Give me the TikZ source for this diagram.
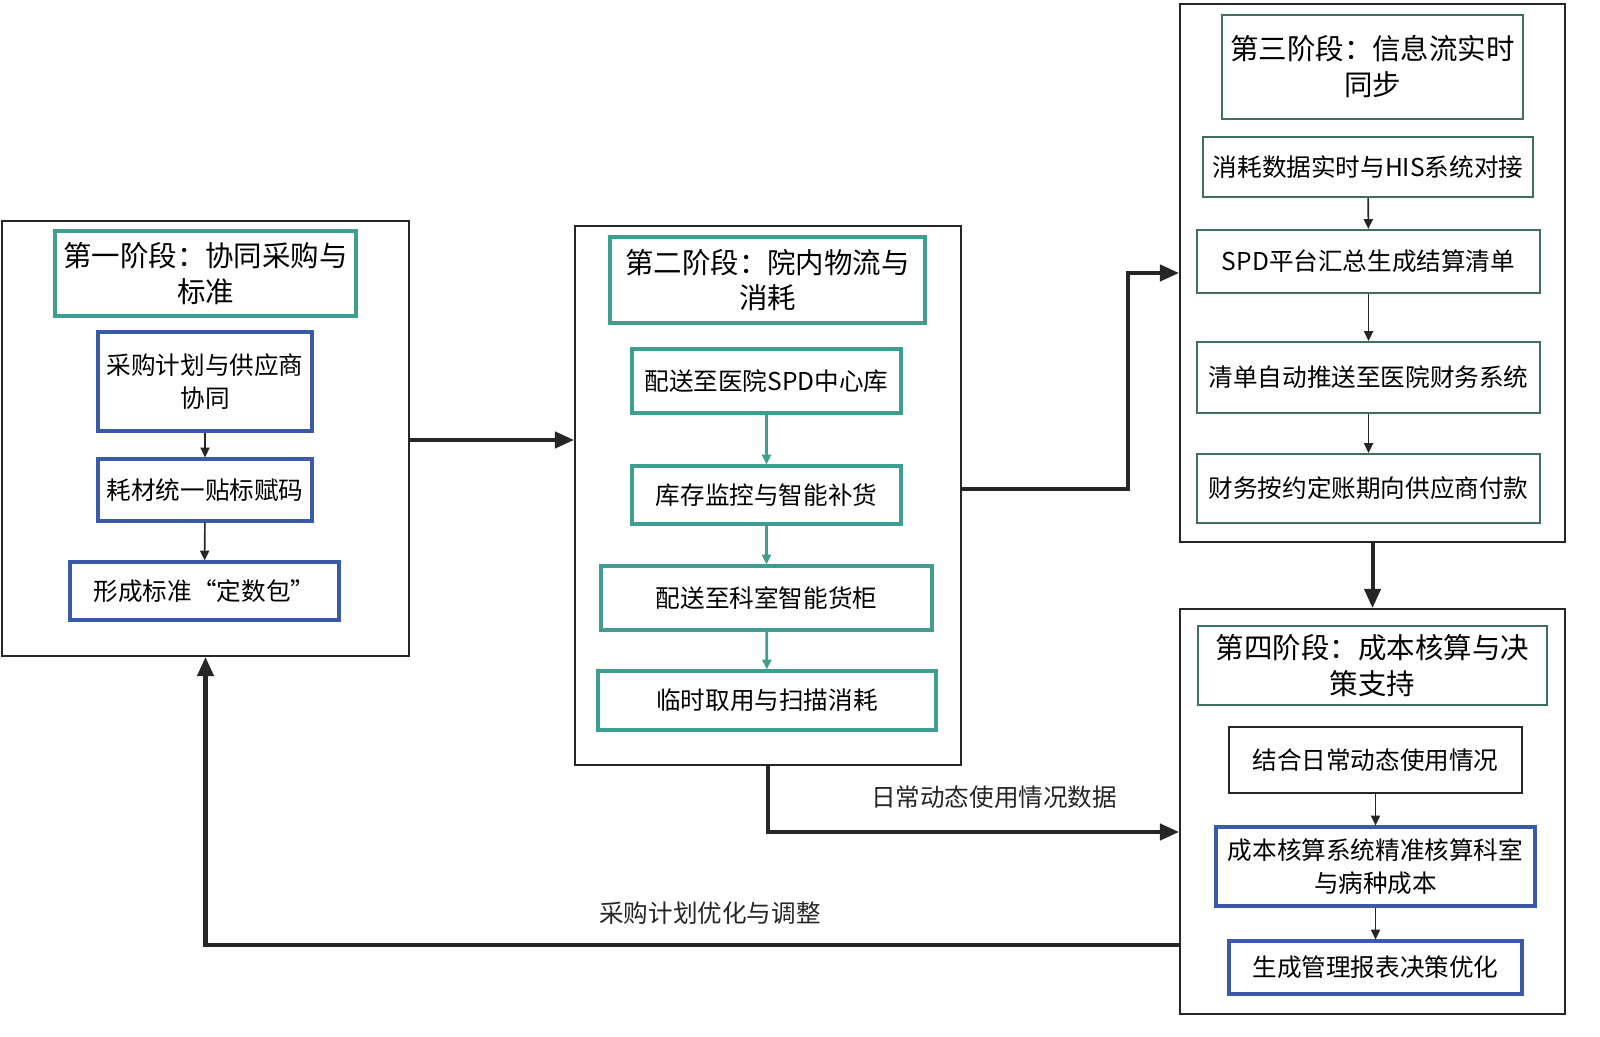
\documentclass[tikz,border=0pt]{standalone}
\usepackage{fontspec}
\setmainfont{Noto Sans CJK SC}
\usetikzlibrary{arrows.meta}

\definecolor{tealline}{HTML}{3E9E90}
\definecolor{blueline}{HTML}{3A5AA8}
\definecolor{darkgreen}{HTML}{3F6F62}

\begin{document}
\begin{tikzpicture}[
  stage/.style={draw=black!85,line width=0.5pt,minimum width=#1},
  title/.style={draw=tealline,line width=0.9pt,align=center,font=\fontsize{8.1}{10.2}\selectfont,inner sep=0pt},
  item/.style={draw=blueline,line width=0.9pt,align=center,font=\fontsize{7}{9.3}\selectfont,inner sep=0pt},
  tip/.style={-{Triangle[length=2.8pt,width=2.6pt]},line width=0.45pt,black!85},
  flow/.style={-{Triangle[length=5.5pt,width=4.6pt]},line width=1.15pt,black!85},
  lbl/.style={font=\fontsize{7}{9}\selectfont,text=black!85}
]
\useasboundingbox (0,0) rectangle (16,10.36);

% Stage one
\node[stage=4.07cm,minimum height=4.35cm] (s1) at (2.055,5.975) {};
\node[title,minimum width=3.01cm,minimum height=0.85cm] (t1) at (2.055,7.625) {第一阶段：协同采购与\\标准};
\node[item,minimum width=2.14cm,minimum height=0.99cm] (a1) at (2.05,6.545) {采购计划与供应商\\协同};
\node[item,minimum width=2.14cm,minimum height=0.62cm] (a2) at (2.05,5.46) {耗材统一贴标赋码};
\node[item,minimum width=2.69cm,minimum height=0.58cm] (a3) at (2.045,4.45) {形成标准“定数包”};
\draw[tip] (a1) -- (a2);
\draw[tip] (a2) -- (a3);

% Stage two
\node[stage=3.86cm,minimum height=5.39cm] (s2) at (7.68,5.405) {};
\node[title,minimum width=3.15cm,minimum height=0.86cm] (t2) at (7.675,7.56) {第二阶段：院内物流与\\消耗};
\node[item,draw=tealline,minimum width=2.69cm,minimum height=0.64cm] (b1) at (7.665,6.55) {配送至医院SPD中心库};
\node[item,draw=tealline,minimum width=2.69cm,minimum height=0.58cm] (b2) at (7.665,5.41) {库存监控与智能补货};
\node[item,draw=tealline,minimum width=3.31cm,minimum height=0.64cm] (b3) at (7.665,4.38) {配送至科室智能货柜};
\node[item,draw=tealline,minimum width=3.38cm,minimum height=0.59cm] (b4) at (7.67,3.355) {临时取用与扫描消耗};
\draw[tip,tealline,line width=0.8pt] (b1) -- (b2);
\draw[tip,tealline,line width=0.8pt] (b2) -- (b3);
\draw[tip,tealline,line width=0.8pt] (b3) -- (b4);

% Stage three
\node[stage=3.85cm,minimum height=5.38cm] (s3) at (13.725,7.63) {};
\node[title,draw=darkgreen,line width=0.6pt,minimum width=3.01cm,minimum height=1.04cm] (t3) at (13.725,9.69) {第三阶段：信息流实时\\同步};
\node[item,draw=darkgreen,line width=0.6pt,minimum width=3.30cm,minimum height=0.60cm] (c1) at (13.68,8.69) {消耗数据实时与HIS系统对接};
\node[item,draw=darkgreen,line width=0.6pt,minimum width=3.43cm,minimum height=0.63cm] (c2) at (13.685,7.745) {SPD平台汇总生成结算清单};
\node[item,draw=darkgreen,line width=0.6pt,minimum width=3.43cm,minimum height=0.71cm] (c3) at (13.685,6.585) {清单自动推送至医院财务系统};
\node[item,draw=darkgreen,line width=0.6pt,minimum width=3.43cm,minimum height=0.69cm] (c4) at (13.685,5.475) {财务按约定账期向供应商付款};
\draw[tip] (c1) -- (c2);
\draw[tip] (c2) -- (c3);
\draw[tip] (c3) -- (c4);

% Stage four
\node[stage=3.85cm,minimum height=4.05cm] (s4) at (13.725,2.245) {};
\node[title,draw=darkgreen,line width=0.6pt,minimum width=3.49cm,minimum height=0.79cm] (t4) at (13.725,3.705) {第四阶段：成本核算与决\\策支持};
\node[item,draw=black!85,line width=0.6pt,minimum width=2.93cm,minimum height=0.66cm] (d1) at (13.755,2.76) {结合日常动态使用情况};
\node[item,minimum width=3.19cm,minimum height=0.79cm] (d2) at (13.755,1.695) {成本核算系统精准核算科室\\与病种成本};
\node[item,minimum width=2.93cm,minimum height=0.53cm] (d3) at (13.755,0.685) {生成管理报表决策优化};
\draw[tip] (d1) -- (d2);
\draw[tip] (d2) -- (d3);

% Links between stages
\coordinate (bend) at (11.28,7.63);
\draw[flow] ([yshift=-0.015cm]s1.east) -- ([yshift=-0.015cm]s1.east -| s2.west);
\draw[flow] ([yshift=0.065cm]s2.east) -| (bend) -- (s3.west);
\draw[flow] (s3.south) -- (s4.north);
\draw[flow] (s2.south) |- ([yshift=-0.205cm]s4.west);
\draw[flow] ([yshift=-1.335cm]s4.west) -| (s1.south);

% Labels
\node[lbl] (usage) at (9.94,2.39) {日常动态使用情况数据};
\node[lbl] (plan) at (7.10,1.23) {采购计划优化与调整};
\end{tikzpicture}
\end{document}
